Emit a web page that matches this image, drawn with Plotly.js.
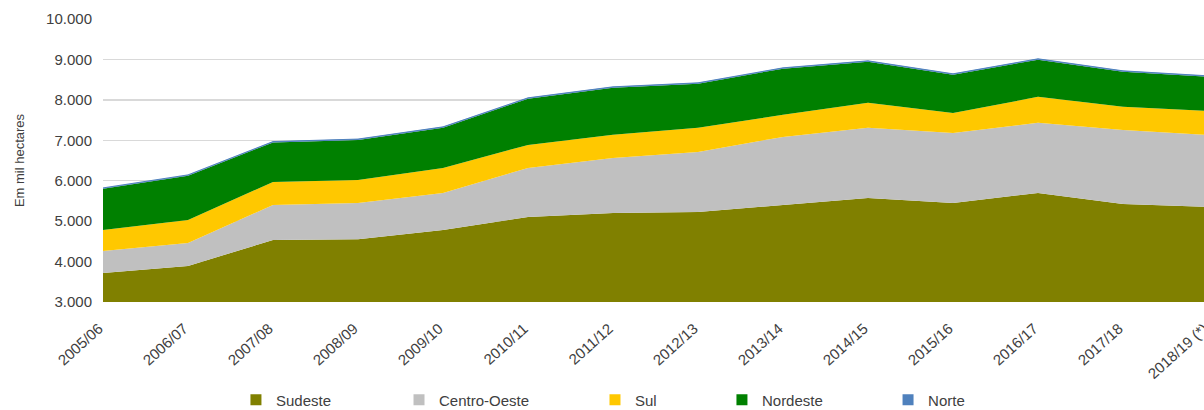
<!DOCTYPE html>
<html>
<head>
<meta charset="utf-8">
<script src="https://cdn.plot.ly/plotly-3.0.1.min.js"></script>
<style>
html, body { margin: 0; padding: 0; background: #ffffff; overflow: hidden; }
#chart { width: 1215px; height: 410px; }
</style>
</head>
<body>
<div id="chart"></div>
<script>
// Categories (safras)
const categories = ["2005/06", "2006/07", "2007/08", "2008/09", "2009/10", "2010/11", "2011/12",
  "2012/13", "2013/14", "2014/15", "2015/16", "2016/17", "2017/18", "2018/19 (*)"];

// Series values (mil hectares)
const sudeste     = [3718, 3891, 4535, 4550, 4782, 5104, 5203, 5228, 5401, 5574, 5450, 5698, 5426, 5351];
const centroOeste = [ 544,  569,  866,  900,  916, 1213, 1361, 1485, 1683, 1733, 1733, 1733, 1831, 1783];
const sul         = [ 520,  570,  569,  570,  619,  569,  570,  594,  545,  619,  495,  643,  570,  594];
const nordeste    = [1020, 1094,  978,  990,  995, 1144, 1168, 1094, 1143, 1019,  946,  921,  871,  846];
const norte       = [  20,   20,   20,   20,   20,   20,   20,   20,   20,   20,   20,   20,   20,   20];

const seriesNames = ["Sudeste", "Centro-Oeste", "Sul", "Nordeste", "Norte"];
const seriesData = [sudeste, centroOeste, sul, nordeste, norte];
const seriesColors = ["#808000", "#C0C0C0", "#FFC800", "#008000", "#4F81BD"];

const yTicks = [3000, 4000, 5000, 6000, 7000, 8000, 9000, 10000];
const xIdx = categories.map((c, i) => i);

// legend positions (container fraction, left edge of each legend box)
const legendX = [0.1942, 0.3284, 0.4897, 0.5942, 0.7309];
const legendIds = ["legend", "legend2", "legend3", "legend4", "legend5"];

const traces = [];
seriesData.forEach((vals, k) => {
  traces.push({
    type: "scatter",
    x: xIdx,
    y: vals,
    name: seriesNames[k],
    stackgroup: "one",
    mode: "lines",
    line: { width: k === 4 ? 1 : 0, color: seriesColors[k] },
    fillcolor: seriesColors[k],
    showlegend: false,
    hoverinfo: "skip"
  });
});
// legend entries (square symbols)
seriesNames.forEach((n, k) => {
  traces.push({
    type: "scatter",
    x: [null],
    y: [null],
    name: n,
    mode: "markers",
    marker: { symbol: "square", size: 11, color: seriesColors[k] },
    showlegend: true,
    legend: legendIds[k]
  });
});

const layout = {
  width: 1215,
  height: 410,
  margin: { l: 103, r: 7, t: 19, b: 108 },
  paper_bgcolor: "#ffffff",
  plot_bgcolor: "#ffffff",
  separators: ",.",
  font: { family: "Liberation Sans, Arial, sans-serif", size: 15, color: "#404040" },
  showlegend: true,
  xaxis: {
    range: [0, 13],
    automargin: false,
    tickmode: "array",
    tickvals: xIdx,
    ticktext: categories,
    tickangle: -42,
    ticklabelstandoff: 14,
    ticklabelshift: -4,
    showgrid: false,
    zeroline: false,
    showline: false,
    ticks: "",
    tickfont: { size: 15, color: "#404040" }
  },
  yaxis: {
    range: [3000, 10000],
    automargin: false,
    tickmode: "array",
    tickvals: yTicks,
    tickformat: ",d",
    showgrid: true,
    gridcolor: "#D9D9D9",
    gridwidth: 1.5,
    zeroline: false,
    showline: false,
    ticks: "",
    ticklabelstandoff: 10,
    tickfont: { size: 15, color: "#404040" },
    title: { text: "Em mil hectares", font: { size: 13, color: "#404040" }, standoff: 18 }
  }
};

legendIds.forEach((id, k) => {
  layout[id] = {
    orientation: "h",
    xref: "container", yref: "container",
    x: legendX[k], xanchor: "left",
    y: 0.0244, yanchor: "middle",
    bgcolor: "rgba(0,0,0,0)",
    font: { size: 15, color: "#404040" },
    itemwidth: 30
  };
});

Plotly.newPlot("chart", traces, layout, { displayModeBar: false, staticPlot: true });
</script>
</body>
</html>
